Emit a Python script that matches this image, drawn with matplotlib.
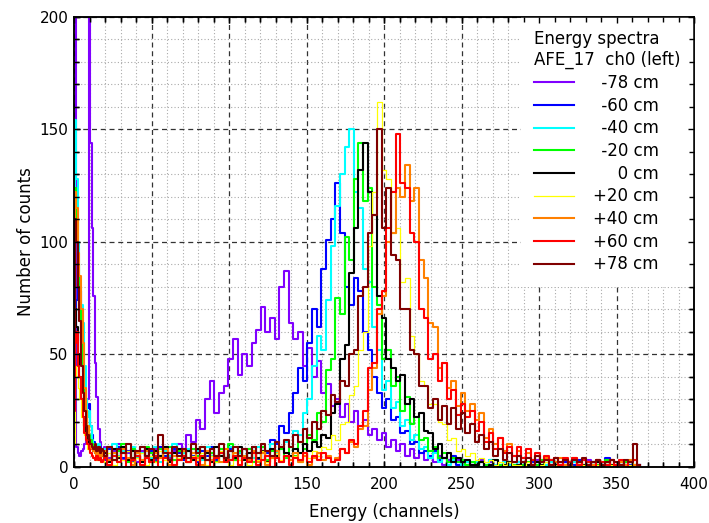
import numpy as np
import matplotlib.pyplot as plt
from matplotlib.ticker import MultipleLocator

# channel grid: every channel below 20, then every 3rd channel
channels = np.r_[0:20, 20:366:3]

m78 = [420, 420, 9, 6, 5, 7, 8, 10, 14, 30, 420, 144, 106, 76, 46, 31, 17, 11, 8, 6,
       9, 4, 7, 10, 3, 6, 8, 2, 7, 5,
       3, 8, 5, 9, 4, 7, 10, 8, 14, 11,
       21, 17, 30, 38, 24, 33, 36, 48, 57, 41,
       50, 45, 55, 61, 71, 60, 66, 57, 80, 87,
       64, 57, 60, 45, 53, 40, 47, 33, 37, 27,
       30, 22, 28, 20, 25, 18, 21, 14, 17, 12,
       15, 9, 12, 7, 10, 5, 8, 4, 6, 3,
       4, 2, 5, 1, 3, 2, 3, 1, 2, 1,
       1, 3, 0, 2, 1, 0, 2, 1, 0, 1,
       2, 0, 1, 3, 0, 1, 2, 0, 1, 1,
       0, 2, 1, 0, 3, 1, 0, 1, 2, 0,
       1, 0, 2, 1, 0, 1]

m60 = [30, 62, 74, 82, 78, 56, 42, 34, 30, 26, 28, 18, 14, 11, 9, 8, 7, 9, 6, 8,
       3, 8, 5, 9, 4, 7, 2, 6, 9, 4,
       7, 3, 9, 5, 2, 8, 6, 3, 7, 5,
       2, 7, 5, 9, 3, 6, 4, 8, 3, 6,
       8, 4, 7, 3, 9, 6, 12, 10, 18, 15,
       24, 33, 44, 38, 55, 70, 62, 88, 101, 110,
       126, 104, 80, 72, 84, 78, 60, 52, 40, 33,
       26, 30, 21, 22, 15, 16, 10, 11, 6, 7,
       5, 7, 3, 4, 2, 5, 1, 3, 2, 1,
       0, 2, 1, 3, 0, 1, 2, 0, 1, 2,
       1, 0, 2, 1, 0, 3, 1, 0, 1, 2,
       0, 1, 3, 0, 1, 2, 0, 1, 4, 0,
       1, 2, 0, 1, 0, 1]

m40 = [40, 154, 128, 100, 80, 72, 64, 45, 30, 22, 25, 18, 12, 10, 8, 7, 10, 6, 8, 7,
       8, 3, 10, 5, 7, 2, 9, 4, 6, 8,
       4, 9, 2, 7, 5, 10, 3, 6, 8, 4,
       7, 3, 9, 5, 2, 8, 4, 9, 3, 6,
       5, 8, 4, 9, 3, 7, 10, 6, 8, 11,
       9, 16, 14, 24, 30, 45, 58, 52, 74, 98,
       116, 130, 142, 150, 122, 115, 88, 82, 62, 52,
       34, 38, 26, 29, 18, 21, 12, 14, 8, 9,
       4, 6, 2, 4, 1, 3, 2, 1, 2, 1,
       2, 0, 1, 3, 1, 0, 2, 1, 0, 2,
       1, 0, 3, 1, 0, 1, 2, 0, 1, 1,
       0, 2, 1, 0, 1, 2, 0, 1, 2, 0,
       1, 0, 1, 2, 0, 1]

m20 = [30, 124, 110, 90, 70, 55, 40, 30, 25, 18, 14, 12, 10, 9, 8, 6, 9, 7, 5, 6,
       4, 9, 3, 7, 10, 2, 8, 5, 3, 9,
       6, 2, 8, 4, 9, 3, 7, 5, 2, 8,
       5, 9, 3, 6, 2, 8, 4, 10, 3, 7,
       4, 8, 2, 6, 9, 3, 7, 5, 8, 4,
       9, 5, 11, 8, 14, 12, 24, 20, 43, 48,
       75, 68, 102, 92, 128, 144, 118, 124, 80, 72,
       48, 52, 36, 40, 25, 31, 19, 22, 12, 13,
       7, 9, 4, 6, 2, 4, 2, 3, 1, 2,
       0, 2, 1, 0, 3, 1, 0, 2, 1, 0,
       1, 2, 0, 1, 3, 0, 1, 2, 0, 1,
       2, 0, 1, 1, 0, 2, 1, 0, 3, 1,
       0, 1, 2, 0, 1, 0]

p0 = [20, 70, 62, 50, 40, 30, 22, 18, 14, 12, 10, 9, 8, 7, 6, 6, 5, 7, 5, 6,
      6, 2, 8, 4, 9, 3, 7, 5, 2, 8,
      3, 7, 5, 9, 2, 6, 8, 4, 7, 3,
      8, 4, 6, 2, 9, 5, 3, 7, 4, 9,
      3, 6, 9, 4, 7, 2, 8, 5, 9, 6,
      5, 8, 6, 10, 7, 11, 9, 14, 13, 24,
      28, 48, 54, 86, 106, 132, 144, 122, 112, 76,
      66, 48, 44, 38, 41, 28, 30, 22, 24, 16,
      15, 8, 10, 4, 6, 2, 4, 2, 3, 1,
      1, 2, 0, 1, 3, 0, 1, 2, 0, 1,
      2, 1, 0, 2, 1, 0, 3, 1, 0, 1,
      1, 0, 2, 1, 0, 1, 2, 0, 1, 1,
      0, 2, 1, 0, 1, 0]

p20 = [10, 40, 45, 35, 30, 22, 18, 14, 10, 8, 7, 6, 5, 4, 5, 3, 4, 2, 3, 4,
       2, 6, 1, 5, 3, 7, 2, 4, 6, 1,
       5, 2, 7, 3, 6, 1, 4, 7, 2, 5,
       3, 6, 1, 5, 2, 7, 4, 1, 6, 3,
       5, 1, 6, 3, 7, 2, 4, 6, 3, 5,
       3, 5, 2, 6, 4, 7, 5, 9, 8, 14,
       12, 19, 20, 32, 36, 52, 60, 98, 122, 162,
       132, 128, 104, 106, 82, 84, 58, 50, 38, 36,
       28, 28, 20, 19, 12, 13, 7, 8, 5, 6,
       3, 4, 2, 3, 1, 2, 1, 2, 1, 1,
       0, 2, 1, 0, 1, 2, 0, 1, 1, 0,
       1, 0, 2, 1, 0, 1, 1, 0, 2, 1,
       0, 1, 0, 1, 1, 0]

p40 = [50, 122, 115, 95, 85, 70, 55, 35, 25, 18, 12, 9, 8, 7, 6, 5, 7, 4, 6, 5,
       7, 3, 6, 2, 8, 4, 1, 6, 3, 7,
       2, 6, 4, 8, 1, 5, 3, 7, 2, 6,
       4, 1, 7, 3, 5, 2, 8, 3, 6, 1,
       5, 3, 7, 2, 6, 1, 4, 7, 2, 5,
       3, 6, 2, 5, 1, 4, 6, 3, 5, 2,
       4, 8, 6, 11, 9, 17, 18, 34, 44, 68,
       76, 100, 104, 124, 120, 134, 118, 124, 92, 84,
       64, 62, 44, 46, 35, 38, 27, 33, 25, 28,
       21, 24, 13, 17, 10, 13, 7, 10, 5, 7,
       4, 6, 3, 5, 2, 4, 3, 2, 4, 1,
       2, 4, 1, 3, 2, 1, 3, 1, 2, 3,
       1, 2, 1, 3, 1, 0]

p60 = [25, 55, 60, 45, 40, 30, 22, 15, 12, 10, 8, 6, 5, 4, 3, 5, 3, 4, 2, 3,
       4, 1, 5, 2, 6, 0, 3, 5, 1, 4,
       2, 5, 0, 4, 6, 1, 3, 5, 2, 4,
       1, 5, 3, 0, 4, 6, 2, 3, 5, 1,
       4, 2, 6, 1, 3, 5, 0, 4, 2, 5,
       1, 4, 3, 6, 2, 5, 3, 6, 4, 2,
       3, 8, 6, 12, 10, 18, 25, 44, 46, 70,
       78, 106, 122, 148, 126, 124, 104, 100, 70, 66,
       48, 50, 38, 46, 30, 34, 23, 28, 22, 25,
       16, 20, 11, 15, 8, 13, 6, 9, 5, 9,
       4, 8, 3, 6, 2, 5, 3, 4, 1, 4,
       2, 4, 1, 3, 2, 0, 3, 2, 1, 3,
       1, 3, 0, 2, 3, 1]

p78 = [60, 110, 100, 80, 65, 45, 33, 25, 18, 14, 12, 10, 9, 8, 10, 7, 9, 6, 8, 7,
       5, 9, 3, 8, 6, 10, 4, 7, 9, 5,
       8, 4, 14, 6, 3, 9, 5, 8, 4, 10,
       6, 9, 3, 8, 5, 10, 4, 7, 9, 5,
       8, 4, 9, 6, 10, 7, 5, 11, 9, 12,
       9, 14, 11, 17, 13, 20, 17, 25, 23, 32,
       29, 38, 36, 50, 52, 76, 80, 104, 112, 150,
       106, 124, 94, 92, 70, 70, 52, 50, 36, 36,
       26, 30, 21, 27, 19, 26, 17, 24, 15, 19,
       11, 14, 8, 11, 5, 8, 3, 6, 2, 5,
       2, 4, 1, 5, 2, 3, 1, 4, 2, 3,
       1, 3, 2, 4, 1, 2, 3, 1, 2, 3,
       2, 1, 3, 2, 10, 1]

series = [m78, m60, m40, m20, p0, p20, p40, p60, p78]
labels = ['-78 cm', '-60 cm', '-40 cm', '-20 cm', '0 cm',
          '+20 cm', '+40 cm', '+60 cm', '+78 cm']
colors = ['#8000ff', '#0000ff', '#00ffff', '#00ff00', '#000000',
          '#ffff00', '#ff8000', '#ff0000', '#800000']


def padded(lab):
    # right-align the legend labels
    if lab.startswith('-'):
        return '\u2002' + lab
    if lab[0].isdigit():
        return '\u2007\u2007\u2009' + lab
    return lab


fig = plt.figure(figsize=(7.09, 5.23), dpi=100)
ax = fig.add_axes([0.1044, 0.1071, 0.8745, 0.8604])

for vals, lab, col in zip(series, labels, colors):
    lw = 0.9 if col == '#ffff00' else 1.5
    ax.plot(channels, vals, drawstyle='steps-mid', color=col, lw=lw, label=padded(lab))

ax.set_xlim(0, 400)
ax.set_ylim(0, 200)
ax.xaxis.set_major_locator(MultipleLocator(50))
ax.xaxis.set_minor_locator(MultipleLocator(10))
ax.yaxis.set_major_locator(MultipleLocator(50))
ax.yaxis.set_minor_locator(MultipleLocator(10))
ax.grid(which='major', linestyle=(0, (4, 3)), color='#333333', lw=0.9)
ax.grid(which='minor', linestyle=(0, (1, 2)), color='#aaaaaa', lw=0.8)
ax.tick_params(which='both', direction='in', top=True, right=True, width=1, labelsize=11)
ax.tick_params(which='major', length=4)
ax.tick_params(which='minor', length=3.5)
ax.tick_params(axis='x', pad=7)
ax.tick_params(axis='y', pad=4)
for s in ax.spines.values():
    s.set_linewidth(1.1)

ax.set_xlabel('Energy (channels)', fontsize=12)
ax.set_ylabel('Number of counts', fontsize=12)
ax.xaxis.set_label_coords(0.5, -0.08)
ax.yaxis.set_label_coords(-0.063, 0.5)

leg = ax.legend(title='Energy spectra\nAFE_17  ch0 (left)', loc='upper right',
                fontsize=12, title_fontsize=12, frameon=True, fancybox=False,
                edgecolor='none', framealpha=1, borderaxespad=0, borderpad=0.8,
                handlelength=2.4, handletextpad=1.1, labelspacing=0.28,
                alignment='left')

# overlay axes so the inward ticks stay visible over the legend
ax_t = fig.add_axes(ax.get_position(), sharex=ax, sharey=ax)
ax_t.patch.set_visible(False)
ax_t.tick_params(which='both', direction='in', top=True, right=True, width=1,
                 labelbottom=False, labelleft=False)
ax_t.tick_params(which='major', length=4)
ax_t.tick_params(which='minor', length=3.5)
for s in ax_t.spines.values():
    s.set_linewidth(1.1)

fig.savefig('out.png', dpi=100)
